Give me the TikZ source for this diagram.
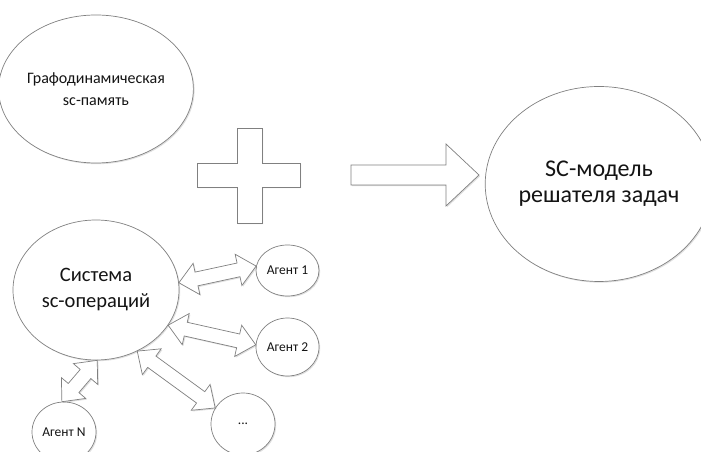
\documentclass[tikz,border=0pt]{standalone}
\usepackage{fontspec}
\setmainfont{Carlito}
\usepackage{tikz}
\usetikzlibrary{calc,shapes.geometric,shadows}
\definecolor{edgegray}{RGB}{128,128,128}
\definecolor{inkgray}{RGB}{20,20,20}
% block double arrow between two border points
\newcommand\dblarrow[2]{%
  \draw[blk] (#1) -- ($(#1)!18pt!(#2)!16pt!90:(#2)$)
    -- ($(#1)!18pt!(#2)!7pt!90:(#2)$) -- ($(#2)!18pt!(#1)!7pt!-90:(#1)$)
    -- ($(#2)!18pt!(#1)!16pt!-90:(#1)$) -- (#2)
    -- ($(#2)!18pt!(#1)!16pt!90:(#1)$) -- ($(#2)!18pt!(#1)!7pt!90:(#1)$)
    -- ($(#1)!18pt!(#2)!7pt!-90:(#2)$) -- ($(#1)!18pt!(#2)!16pt!-90:(#2)$)
    -- cycle;}

\begin{document}
\begin{tikzpicture}[x=1pt, y=1pt, text=inkgray,
  bubble/.style={ellipse, draw=edgegray, fill=white, line width=0.7pt,
    inner sep=0pt, align=center,
    drop shadow={shadow xshift=1.2pt, shadow yshift=-1.2pt, opacity=0.25}},
  agent/.style={bubble, font=\fontsize{13.5}{16}\selectfont},
  blk/.style={draw=edgegray, fill=white, line width=0.7pt,
    drop shadow={shadow xshift=1.2pt, shadow yshift=-1.2pt, opacity=0.25}}]
\useasboundingbox (0,0) rectangle (701,452);
% Main components
\node[bubble, minimum width=164, minimum height=148,
  font=\fontsize{16}{22}\selectfont] (mem) at (96,363)
  {Графодинамическая\\sc-память};
\node[bubble, minimum width=166, minimum height=140,
  font=\fontsize{20.5}{26}\selectfont] (sys) at (96,162)
  {Система\\sc-операций};
\node[bubble, minimum width=200, minimum height=195,
  font=\fontsize{24}{26}\selectfont] (model) at (599,268)
  {SC-модель\\решателя задач};
% Agents
\node[agent, minimum width=63, minimum height=51] (ag1) at (287.5,181.5) {Агент 1};
\node[agent, minimum width=63, minimum height=58] (ag2) at (287.5,105) {Агент 2};
\node[agent, minimum width=64, minimum height=62] (agd) at (243,28) {...};
\node[agent, minimum width=64, minimum height=60] (agn) at (64,20) {Агент N};
% Plus sign
\draw[blk] (237,324) -- (262,324) -- (262,289) -- (300,289) -- (300,265)
  -- (262,265) -- (262,229) -- (237,229) -- (237,265) -- (197,265)
  -- (197,289) -- (237,289) -- cycle;
% Result arrow
\draw[blk] (351,287) -- (446,287) -- (446,308) -- (479,277) -- (446,246)
  -- (446,267) -- (351,267) -- cycle;
% Links between the system and the agents
\dblarrow{sys.5}{ag1.172}
\dblarrow{sys.-26}{ag2.176}
\dblarrow{sys.-56}{agd.150}
\dblarrow{sys.-89}{agn.94}
\end{tikzpicture}
\end{document}
